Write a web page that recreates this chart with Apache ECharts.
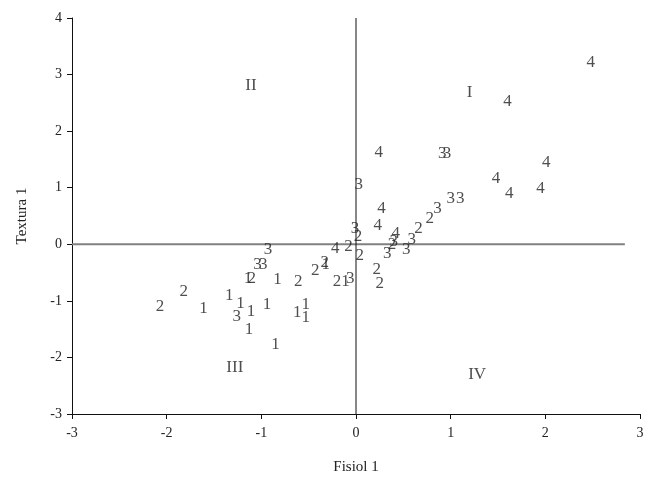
<!DOCTYPE html>
<html>
<head>
<meta charset="utf-8">
<script src="https://cdn.jsdelivr.net/npm/echarts@6/dist/echarts.min.js"></script>
<style>html,body{margin:0;padding:0;background:#fff}#c{width:650px;height:481px}</style>
</head>
<body>
<div id="c"></div>
<script>
var xTicks = [-3, -2, -1, 0, 1, 2, 3];
var yTicks = [-3, -2, -1, 0, 1, 2, 3, 4];
var group1 = [[-1.61,-1.13],[-1.34,-0.90],[-1.22,-1.05],[-1.11,-1.19],[-0.94,-1.06],[-0.62,-1.20],[-0.53,-1.06],[-0.53,-1.29],[-1.13,-1.51],[-0.85,-1.77],[-1.14,-0.60],[-0.83,-0.62],[-0.32,-0.35],[-0.11,-0.66]];
var group2 = [[-2.07,-1.10],[-1.82,-0.83],[-1.10,-0.60],[-0.61,-0.66],[-0.43,-0.46],[-0.33,-0.33],[-0.20,-0.66],[-0.08,-0.04],[0.02,0.14],[0.04,-0.19],[0.22,-0.44],[0.25,-0.69],[0.38,0.00],[0.66,0.28],[0.78,0.46]];
var group3 = [[-0.93,-0.09],[-1.04,-0.35],[-0.98,-0.35],[-1.26,-1.28],[-0.06,-0.60],[-0.01,0.28],[0.03,1.05],[0.91,1.61],[0.96,1.61],[1.00,0.80],[1.10,0.80],[0.86,0.64],[0.40,0.04],[0.33,-0.16],[0.59,0.09],[0.53,-0.09]];
var group4 = [[2.48,3.21],[1.60,2.52],[0.24,1.63],[2.01,1.44],[1.48,1.17],[1.62,0.90],[1.95,0.99],[0.27,0.64],[0.23,0.34],[0.42,0.19],[-0.22,-0.07]];
var quadrantNames = ['I', 'II', 'III', 'IV'];
var quadrantPos = [[1.20,2.69],[-1.11,2.80],[-1.28,-2.18],[1.28,-2.30]];
var zeroLineEnd = 2.84;

var font = 'Liberation Serif';
function groupSeries(name, data) {
  return {
    type: 'scatter', name: name, data: data,
    symbolSize: 1, itemStyle: {color: 'rgba(0,0,0,0)'},
    label: {show: true, position: 'inside', formatter: name, fontFamily: font, fontSize: 17, color: '#222'},
    silent: true, z: 5
  };
}
var series = [
  {
    type: 'line', data: [[-3, 0], [zeroLineEnd, 0]], symbol: 'none',
    lineStyle: {color: '#808080', width: 2}, silent: true, z: 1
  },
  {
    type: 'line', data: [[0, -3], [0, 4]], symbol: 'none',
    lineStyle: {color: '#111', width: 1}, silent: true, z: 1
  },
  groupSeries('1', group1),
  groupSeries('2', group2),
  groupSeries('3', group3),
  groupSeries('4', group4),
  {
    type: 'scatter',
    data: quadrantPos.map(function (p, i) { return {value: p, name: quadrantNames[i]}; }),
    symbolSize: 1, itemStyle: {color: 'rgba(0,0,0,0)'},
    label: {show: true, position: 'inside', formatter: '{b}', fontFamily: font, fontSize: 17, color: '#222'},
    silent: true
  }
];
var chart = echarts.init(document.getElementById('c'));
chart.setOption({
  animation: false,
  backgroundColor: '#fff',
  grid: {left: 72, right: 10, top: 18, bottom: 67},
  xAxis: {
    type: 'value', min: xTicks[0], max: xTicks[xTicks.length - 1], interval: 1,
    name: 'Fisiol 1', nameLocation: 'middle', nameGap: 46,
    nameTextStyle: {fontFamily: font, fontSize: 15, color: '#222'},
    axisLine: {onZero: false, lineStyle: {color: '#111'}},
    axisTick: {show: true, length: 5, lineStyle: {color: '#111'}},
    axisLabel: {fontFamily: font, fontSize: 14, color: '#222', margin: 12},
    splitLine: {show: false}
  },
  yAxis: {
    type: 'value', min: yTicks[0], max: yTicks[yTicks.length - 1], interval: 1,
    name: 'Textura 1', nameLocation: 'middle', nameGap: 42, nameRotate: 90,
    nameTextStyle: {fontFamily: font, fontSize: 15, color: '#222'},
    axisLine: {show: true, onZero: false, lineStyle: {color: '#111'}},
    axisTick: {show: true, length: 5, lineStyle: {color: '#111'}},
    axisLabel: {fontFamily: font, fontSize: 14, color: '#222', margin: 10},
    splitLine: {show: false}
  },
  series: series
});
</script>
</body>
</html>
